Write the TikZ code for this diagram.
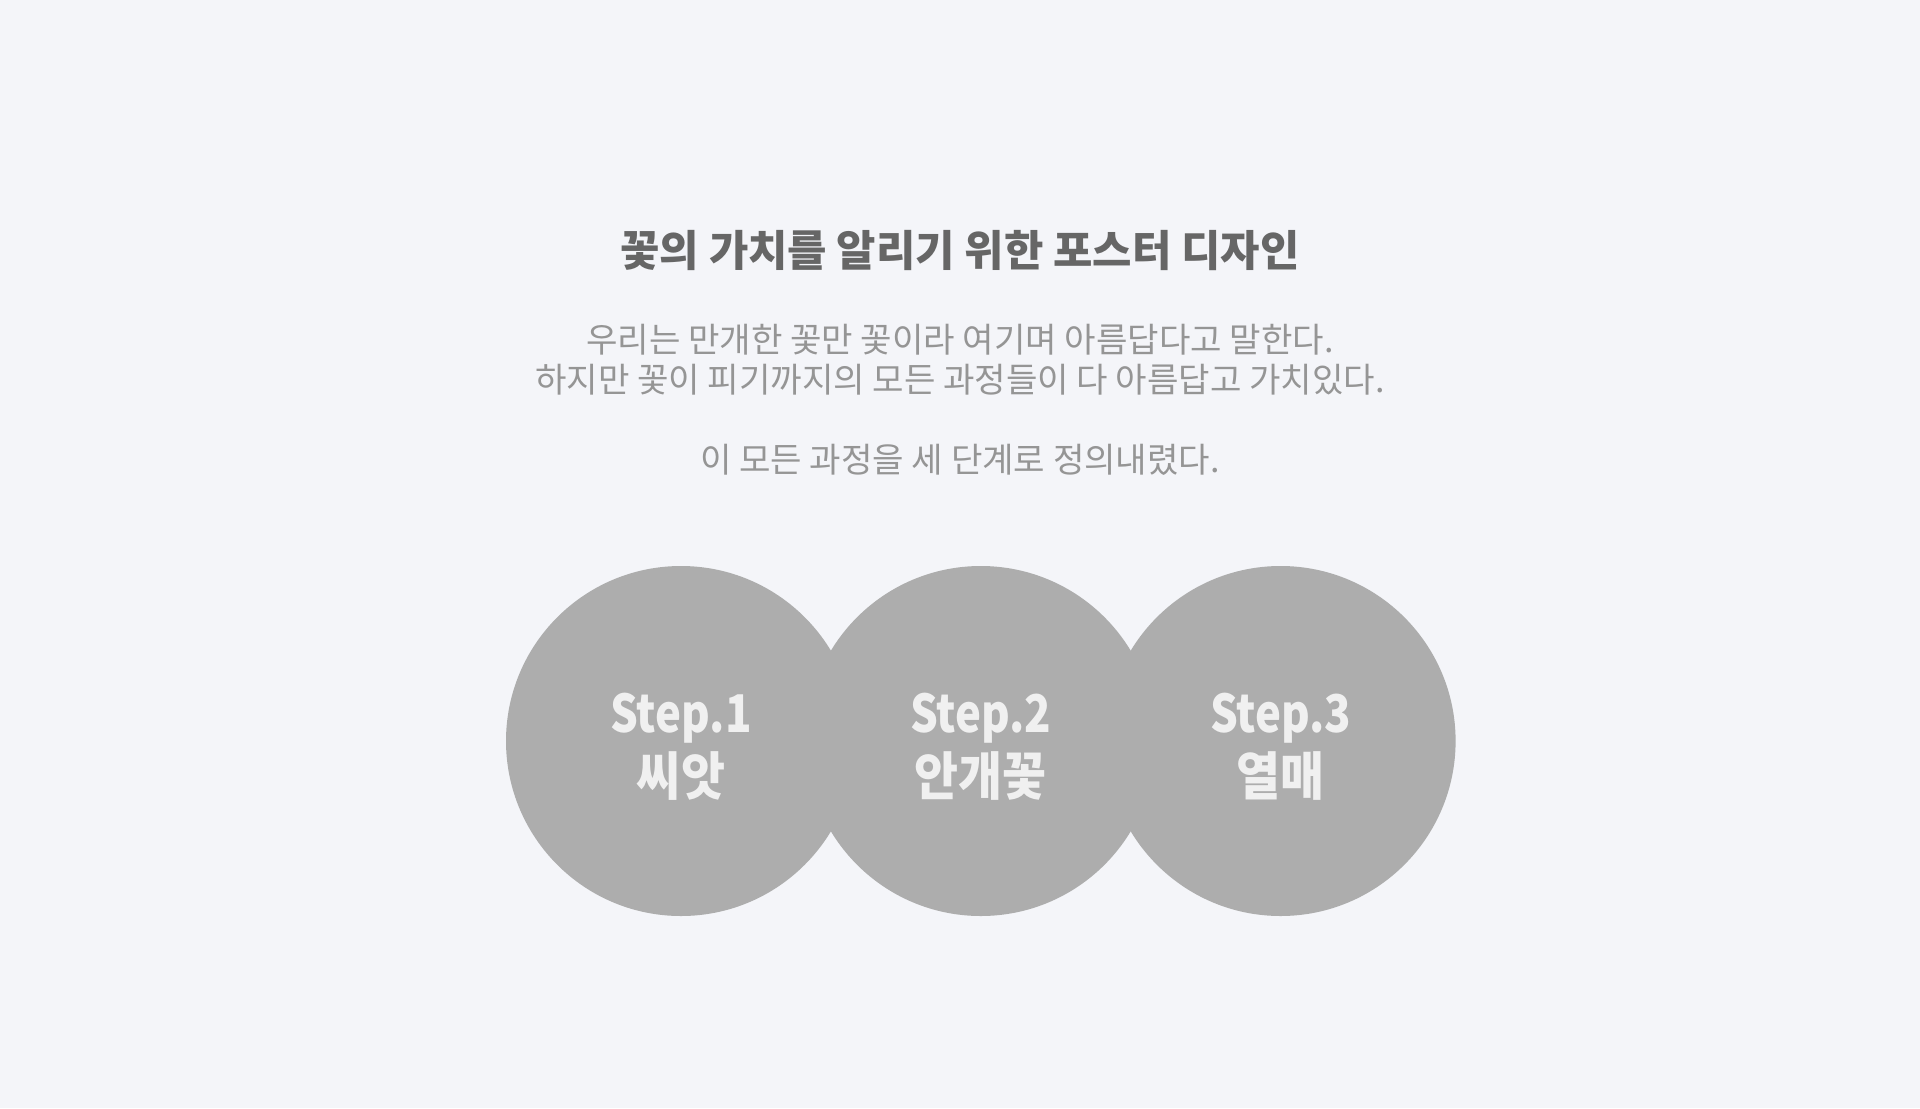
\documentclass[tikz,border=0pt]{standalone}
\usepackage{fontspec}
\setmainfont{Noto Sans CJK KR}
\usetikzlibrary{positioning}
\definecolor{paper}{HTML}{F4F5F9}
\definecolor{headgray}{HTML}{666666}
\definecolor{textgray}{HTML}{959595}
\definecolor{discgray}{HTML}{ADADAD}
\definecolor{labelwhite}{HTML}{F0F0F0}
\newcommand{\stepno}[1]{{\fontsize{26}{31.5}\selectfont\addfontfeature{FakeStretch=0.84}\rule{0pt}{25.5pt}Step.#1}}

\begin{document}
\begin{tikzpicture}[
    x = 0.5pt, y = -0.5pt, align = center,
    headline/.style = {text = headgray, font = \bfseries\fontsize{21.4}{25}\selectfont, inner sep = 0pt},
    bodytext/.style = {text = textgray, font = \fontsize{17.1}{20.2}\selectfont, inner sep = 0pt},
    stepdisc/.style = {circle, fill = discgray, inner sep = 0pt, minimum size = 175pt, text = labelwhite,
                       font = \bfseries\fontsize{26}{31.5}\selectfont\addfontfeature{FakeStretch=0.92}},
    ]

    % page
    \path [fill = paper] (0,0) rectangle (1920,1108);

    % heading and text
    \node [headline] (headline) at (960,251) {꽃의 가치를 알리기 위한 포스터 디자인};
    \node [bodytext] (intro)    at (960,360) {우리는 만개한 꽃만 꽃이라 여기며 아름답다고 말한다.\\하지만 꽃이 피기까지의 모든 과정들이 다 아름답고 가치있다.};
    \node [bodytext] (closing)  at (960,460) {이 모든 과정을 세 단계로 정의내렸다.};

    % three steps
    \node [stepdisc] (seed)  at (681,741)            {\stepno{1}\\씨앗};
    \node [stepdisc] (bloom) [right = -25.5pt of seed]  {\stepno{2}\\안개꽃};
    \node [stepdisc] (fruit) [right = -25.5pt of bloom] {\stepno{3}\\열매};
\end{tikzpicture}
\end{document}
